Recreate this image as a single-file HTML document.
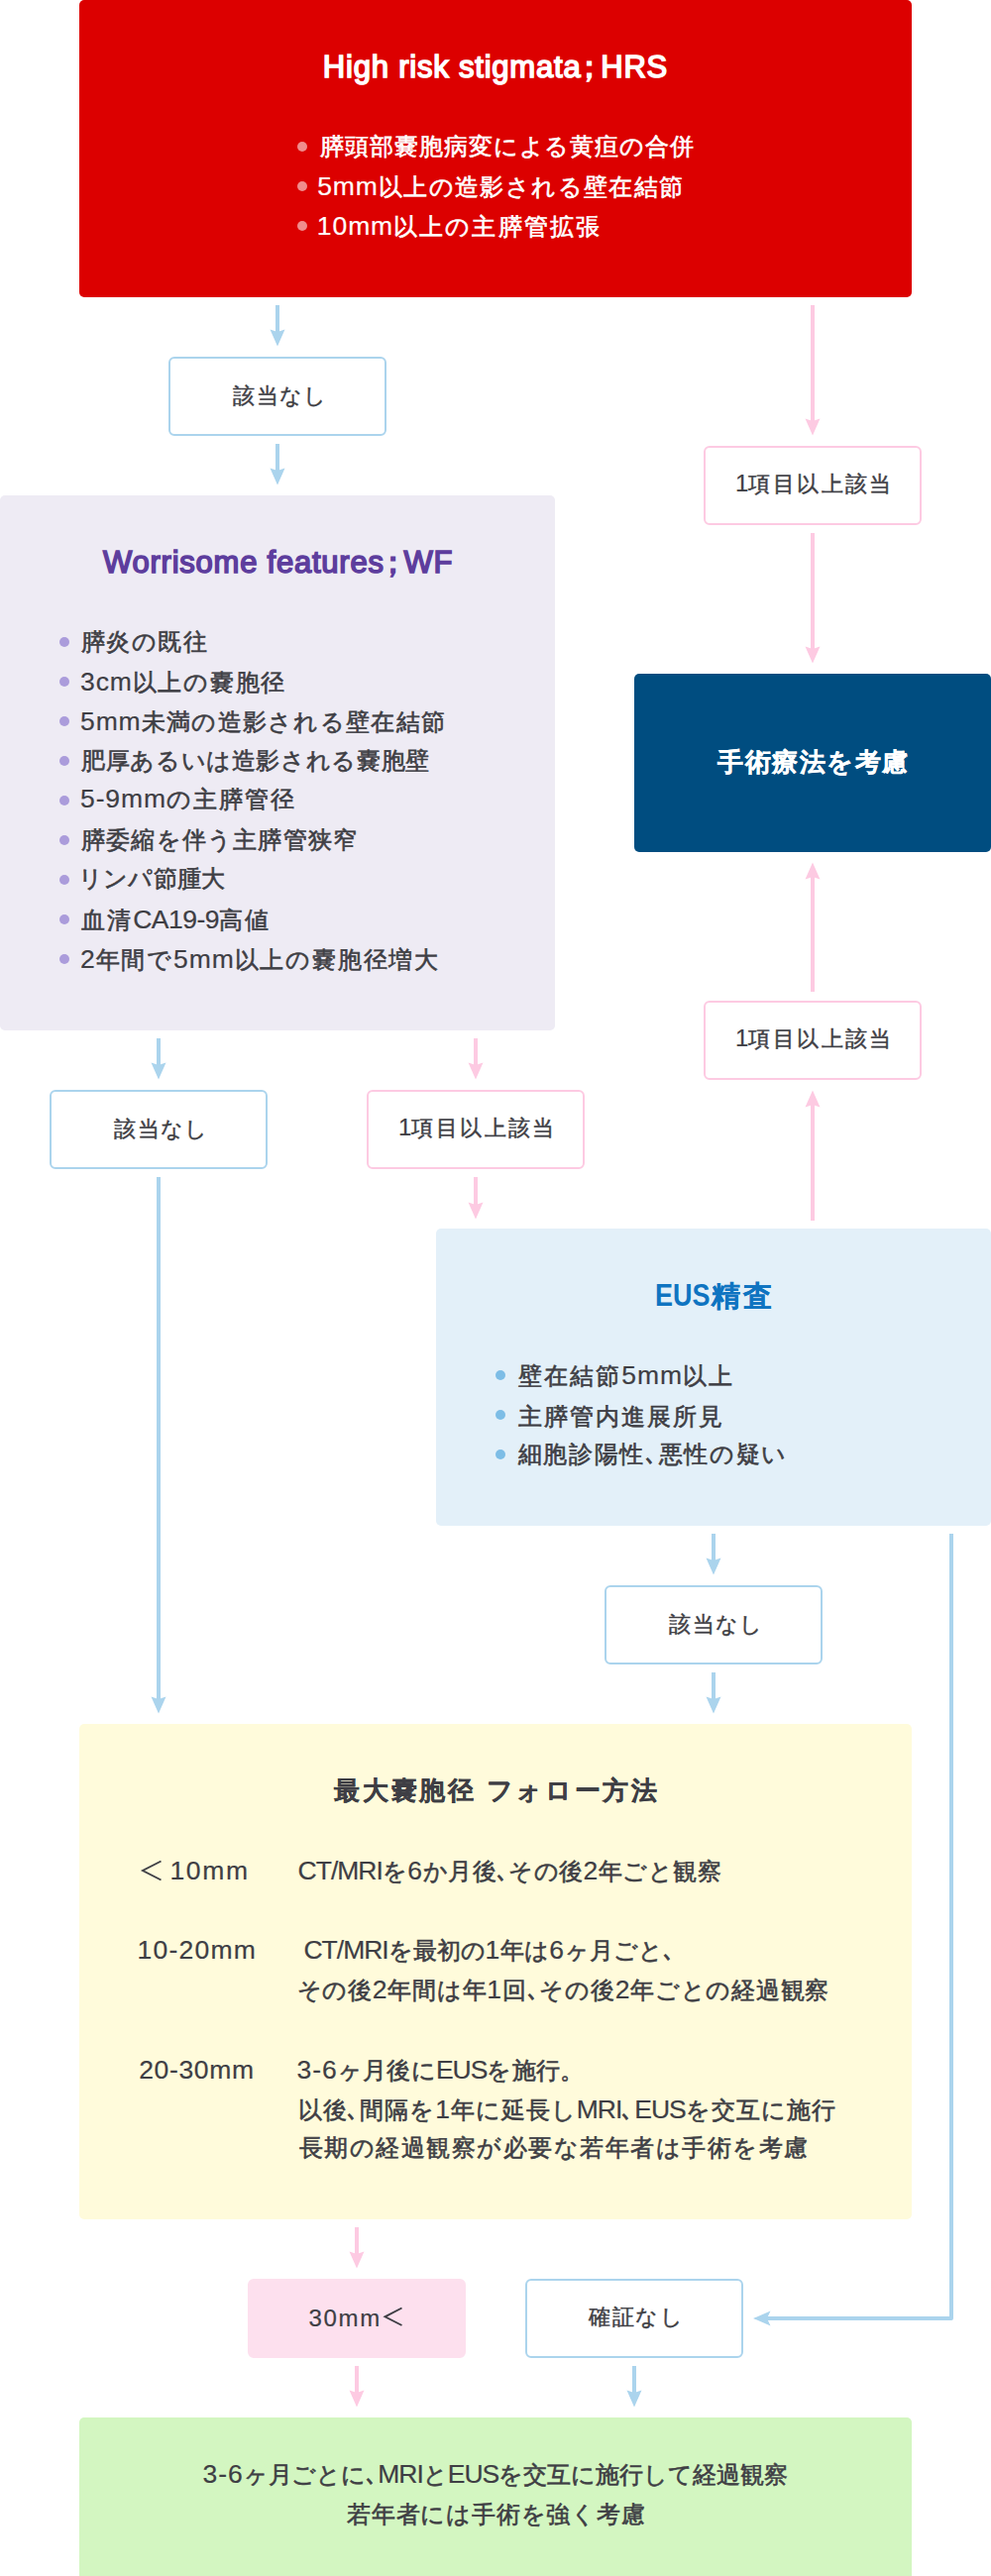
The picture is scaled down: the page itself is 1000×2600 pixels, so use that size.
<!DOCTYPE html><html lang="ja"><head><meta charset="utf-8"><style>
*{margin:0;padding:0;box-sizing:border-box}
html,body{width:1000px;height:2600px;background:#fff;overflow:hidden}
body{position:relative;font-family:"Liberation Sans",sans-serif;color:#3e3e44}
.b{position:absolute}
.t{position:absolute;white-space:nowrap;line-height:40px;top:0;left:0}
.bx{position:absolute;border:2px solid #abd4ed;border-radius:6px;background:#fff}
.bp{position:absolute;border:2px solid #fdcae2;border-radius:6px;background:#fff}
.dot{position:absolute;width:10px;height:10px;border-radius:50%}
.lt{line-height:1;-webkit-text-stroke-width:0.2px}
.tb .lt{-webkit-text-stroke-width:0}
</style></head><body>
<div class="b" style="left:80px;top:0px;width:840px;height:300px;background:#dc0000;border-radius:5px;"></div>
<div class="dot" style="left:300px;top:143px;background:#f08c8c"></div>
<div class="dot" style="left:300px;top:183px;background:#f08c8c"></div>
<div class="dot" style="left:300px;top:223px;background:#f08c8c"></div>
<div class="bx" style="left:170px;top:360px;width:220px;height:80px;"></div>
<div class="b" style="left:0px;top:500px;width:560px;height:540px;background:#eeebf4;border-radius:5px;"></div>
<div class="dot" style="left:60px;top:643px;background:#ab9cdb"></div>
<div class="dot" style="left:60px;top:683px;background:#ab9cdb"></div>
<div class="dot" style="left:60px;top:723px;background:#ab9cdb"></div>
<div class="dot" style="left:60px;top:763px;background:#ab9cdb"></div>
<div class="dot" style="left:60px;top:803px;background:#ab9cdb"></div>
<div class="dot" style="left:60px;top:843px;background:#ab9cdb"></div>
<div class="dot" style="left:60px;top:883px;background:#ab9cdb"></div>
<div class="dot" style="left:60px;top:923px;background:#ab9cdb"></div>
<div class="dot" style="left:60px;top:963px;background:#ab9cdb"></div>
<div class="bp" style="left:710px;top:450px;width:220px;height:80px;"></div>
<div class="b" style="left:640px;top:680px;width:360px;height:180px;background:#004d80;border-radius:5px;"></div>
<div class="bp" style="left:710px;top:1010px;width:220px;height:80px;"></div>
<div class="bx" style="left:50px;top:1100px;width:220px;height:80px;"></div>
<div class="bp" style="left:370px;top:1100px;width:220px;height:80px;"></div>
<div class="b" style="left:440px;top:1240px;width:560px;height:300px;background:#e3f0f9;border-radius:5px;"></div>
<div class="dot" style="left:500px;top:1383px;background:#7dbde6"></div>
<div class="dot" style="left:500px;top:1423px;background:#7dbde6"></div>
<div class="dot" style="left:500px;top:1463px;background:#7dbde6"></div>
<div class="bx" style="left:610px;top:1600px;width:220px;height:80px;"></div>
<div class="b" style="left:80px;top:1740px;width:840px;height:500px;background:#fffbdb;border-radius:5px;"></div>
<div class="bp" style="left:250px;top:2300px;width:220px;height:80px;background:#fde0ee;border-color:#fde0ee"></div>
<div class="bx" style="left:530px;top:2300px;width:220px;height:80px;"></div>
<div class="b" style="left:80px;top:2440px;width:840px;height:165px;background:#d3f6c1;border-radius:5px;"></div>
<div class="t" id="t0" style="left:325.86px;top:48.37px;font-size:31px;letter-spacing:0.790px;color:#fff;-webkit-text-stroke:1.6px #fff;"><span class="ref">H</span>igh risk stigmata<span style="margin:0 -5px 0 -7px">；</span>HRS</div>
<div class="t" id="t1" style="left:322.56px;top:128.04px;font-size:24px;letter-spacing:0.994px;color:#fff;-webkit-text-stroke:0.6px #fff;"><span class="ref">膵</span>頭部嚢胞病変による黄疸の合併</div>
<div class="t" id="t2" style="left:320.18px;top:168.74px;font-size:24px;letter-spacing:1.413px;color:#fff;-webkit-text-stroke:0.6px #fff;"><span class="lt" style="font-size:26.5px;letter-spacing:0.9px">5mm</span><span class="ref">以</span>上の造影される壁在結節</div>
<div class="t" id="t3" style="left:319.86px;top:208.74px;font-size:24px;letter-spacing:2.126px;color:#fff;-webkit-text-stroke:0.6px #fff;"><span class="lt" style="font-size:26.5px;letter-spacing:0.9px">10mm</span><span class="ref">以</span>上の主膵管拡張</div>
<div class="t" id="t4" style="left:235.42px;top:379.58px;font-size:22px;letter-spacing:1.320px;color:#3e3e44;-webkit-text-stroke:0.45px #3e3e44;"><span class="ref">該</span>当なし</div>
<div class="t" id="t5" style="left:741.92px;top:468.60px;font-size:22px;letter-spacing:2.424px;color:#3e3e44;-webkit-text-stroke:0.45px #3e3e44;"><span class="lt" style="font-size:24px;letter-spacing:0px">1</span><span class="ref">項</span>目以上該当</div>
<div class="t" id="t6" style="left:103.98px;top:548.22px;font-size:31px;letter-spacing:0.768px;color:#5d3d9d;-webkit-text-stroke:1.6px #5d3d9d;"><span class="ref">W</span>orrisome features<span style="margin:0 -5px 0 -7px">；</span>WF</div>
<div class="t" id="t7" style="left:82.00px;top:628.04px;font-size:24px;letter-spacing:1.400px;color:#3e3e44;-webkit-text-stroke:0.6px #3e3e44;"><span class="ref">膵</span>炎の既往</div>
<div class="t" id="t8" style="left:81.00px;top:668.74px;font-size:24px;letter-spacing:1.692px;color:#3e3e44;-webkit-text-stroke:0.6px #3e3e44;"><span class="lt" style="font-size:26.5px;letter-spacing:0.9px">3cm</span><span class="ref">以</span>上の嚢胞径</div>
<div class="t" id="t9" style="left:81.00px;top:708.74px;font-size:24px;letter-spacing:1.315px;color:#3e3e44;-webkit-text-stroke:0.6px #3e3e44;"><span class="lt" style="font-size:26.5px;letter-spacing:0.9px">5mm</span><span class="ref">未</span>満の造影される壁在結節</div>
<div class="t" id="t10" style="left:82.00px;top:747.74px;font-size:24px;letter-spacing:0.635px;color:#3e3e44;-webkit-text-stroke:0.6px #3e3e44;"><span class="ref">肥</span>厚あるいは造影される嚢胞壁</div>
<div class="t" id="t11" style="left:81.00px;top:787.04px;font-size:24px;letter-spacing:1.890px;color:#3e3e44;-webkit-text-stroke:0.6px #3e3e44;"><span class="lt" style="font-size:26.5px;letter-spacing:0.9px">5-9mm</span><span class="ref">の</span>主膵管径</div>
<div class="t" id="t12" style="left:82.00px;top:828.04px;font-size:24px;letter-spacing:1.200px;color:#3e3e44;-webkit-text-stroke:0.6px #3e3e44;"><span class="ref">膵</span>委縮を伴う主膵管狭窄</div>
<div class="t" id="t13" style="left:78.56px;top:867.39px;font-size:24px;letter-spacing:0.316px;color:#3e3e44;-webkit-text-stroke:0.6px #3e3e44;"><span class="ref">リ</span>ンパ節腫大</div>
<div class="t" id="t14" style="left:82.00px;top:908.99px;font-size:24px;letter-spacing:2.100px;color:#3e3e44;-webkit-text-stroke:0.6px #3e3e44;"><span class="ref">血</span>清<span class="lt" style="font-size:26.5px;letter-spacing:-0.5px">CA19-9</span>高値</div>
<div class="t" id="t15" style="left:81.00px;top:948.74px;font-size:24px;letter-spacing:1.784px;color:#3e3e44;-webkit-text-stroke:0.6px #3e3e44;"><span class="lt" style="font-size:26.5px;letter-spacing:0.9px">2</span><span class="ref">年</span>間で<span class="lt" style="font-size:26.5px;letter-spacing:0.9px">5mm</span>以上の嚢胞径増大</div>
<div class="t tb" id="t16" style="left:724.18px;top:748.60px;font-size:26px;letter-spacing:1.500px;color:#fff;font-weight:700;-webkit-text-stroke:0.3px #fff;"><span class="ref">手</span>術療法を考慮</div>
<div class="t" id="t17" style="left:741.92px;top:1028.60px;font-size:22px;letter-spacing:2.424px;color:#3e3e44;-webkit-text-stroke:0.45px #3e3e44;"><span class="lt" style="font-size:24px;letter-spacing:0px">1</span><span class="ref">項</span>目以上該当</div>
<div class="t" id="t18" style="left:115.42px;top:1119.58px;font-size:22px;letter-spacing:1.320px;color:#3e3e44;-webkit-text-stroke:0.45px #3e3e44;"><span class="ref">該</span>当なし</div>
<div class="t" id="t19" style="left:401.92px;top:1118.60px;font-size:22px;letter-spacing:2.424px;color:#3e3e44;-webkit-text-stroke:0.45px #3e3e44;"><span class="lt" style="font-size:24px;letter-spacing:0px">1</span><span class="ref">項</span>目以上該当</div>
<div class="t tb" id="t20" style="left:661.42px;top:1288.18px;font-size:29px;letter-spacing:2.680px;color:#0f74c1;font-weight:700;-webkit-text-stroke:0.3px #0f74c1;"><span class="lt" style="font-size:31px;letter-spacing:0;display:inline-block;transform:scaleX(0.87);transform-origin:0 0;margin-right:-7px"><span class="ref">E</span>US</span>精査</div>
<div class="t" id="t21" style="left:522.60px;top:1368.74px;font-size:24px;letter-spacing:2.168px;color:#3e3e44;-webkit-text-stroke:0.6px #3e3e44;"><span class="ref">壁</span>在結節<span class="lt" style="font-size:26.5px;letter-spacing:0.9px">5mm</span>以上</div>
<div class="t" id="t22" style="left:522.60px;top:1409.74px;font-size:24px;letter-spacing:2.063px;color:#3e3e44;-webkit-text-stroke:0.6px #3e3e44;"><span class="ref">主</span>膵管内進展所見</div>
<div class="t" id="t23" style="left:522.60px;top:1448.04px;font-size:24px;letter-spacing:1.684px;color:#3e3e44;-webkit-text-stroke:0.6px #3e3e44;"><span class="ref">細</span>胞診陽性､悪性の疑い</div>
<div class="t" id="t24" style="left:675.42px;top:1619.58px;font-size:22px;letter-spacing:1.320px;color:#3e3e44;-webkit-text-stroke:0.45px #3e3e44;"><span class="ref">該</span>当なし</div>
<div class="t tb" id="t25" style="left:337.18px;top:1787.42px;font-size:26px;letter-spacing:2.698px;color:#3e3e44;font-weight:700;-webkit-text-stroke:0.25px #3e3e44;"><span class="ref">最</span>大嚢胞径 フォロー方法</div>
<div class="t" id="t26" style="left:171.40px;top:1867.58px;font-size:26.5px;letter-spacing:1.680px;color:#3e3e44;-webkit-text-stroke:0.2px #3e3e44;"><span class="ref">1</span>0mm</div>
<div class="t" id="t27" style="left:300.60px;top:1868.58px;font-size:24px;letter-spacing:0.372px;color:#3e3e44;-webkit-text-stroke:0.6px #3e3e44;"><span class="lt" style="font-size:26.5px;letter-spacing:-1.0px"><span class="ref">C</span>T/MRI</span>を<span class="lt" style="font-size:26.5px;letter-spacing:0.9px">6</span>か月後､その後<span class="lt" style="font-size:26.5px;letter-spacing:0.9px">2</span>年ごと観察</div>
<div class="t" id="t28" style="left:138.58px;top:1948.18px;font-size:26.5px;letter-spacing:1.220px;color:#3e3e44;-webkit-text-stroke:0.2px #3e3e44;"><span class="ref">1</span>0-20mm</div>
<div class="t" id="t29" style="left:299.82px;top:1949.18px;font-size:24px;letter-spacing:-0.031px;color:#3e3e44;-webkit-text-stroke:0.6px #3e3e44;">&nbsp;<span class="lt" style="font-size:26.5px;letter-spacing:-1.0px"><span class="ref">C</span>T/MRI</span>を最初の<span class="lt" style="font-size:26.5px;letter-spacing:0.9px">1</span>年は<span class="lt" style="font-size:26.5px;letter-spacing:0.9px">6</span>ヶ月ごと､</div>
<div class="t" id="t30" style="left:299.60px;top:1989.18px;font-size:24px;letter-spacing:0.728px;color:#3e3e44;-webkit-text-stroke:0.6px #3e3e44;">その後<span class="lt" style="font-size:26.5px;letter-spacing:0.9px"><span class="ref">2</span></span>年間は年<span class="lt" style="font-size:26.5px;letter-spacing:0.9px">1</span>回､その後<span class="lt" style="font-size:26.5px;letter-spacing:0.9px">2</span>年ごとの経過観察</div>
<div class="t" id="t31" style="left:140.18px;top:2068.58px;font-size:26.5px;letter-spacing:0.650px;color:#3e3e44;-webkit-text-stroke:0.2px #3e3e44;"><span class="ref">2</span>0-30mm</div>
<div class="t" id="t32" style="left:299.58px;top:2069.58px;font-size:24px;letter-spacing:0.331px;color:#3e3e44;-webkit-text-stroke:0.6px #3e3e44;"><span class="lt" style="font-size:26.5px;letter-spacing:0.9px"><span class="ref">3</span>-6</span>ヶ月後に<span class="lt" style="font-size:26.5px;letter-spacing:-1.0px">EUS</span>を施行。</div>
<div class="t" id="t33" style="left:300.60px;top:2109.58px;font-size:24px;letter-spacing:0.952px;color:#3e3e44;-webkit-text-stroke:0.6px #3e3e44;">以後､間隔を<span class="lt" style="font-size:26.5px;letter-spacing:0.9px"><span class="ref">1</span></span>年に延長し<span class="lt" style="font-size:26.5px;letter-spacing:-1.0px">MRI</span>､<span class="lt" style="font-size:26.5px;letter-spacing:-1.0px">EUS</span>を交互に施行</div>
<div class="t" id="t34" style="left:301.60px;top:2148.18px;font-size:24px;letter-spacing:1.518px;color:#3e3e44;-webkit-text-stroke:0.6px #3e3e44;"><span class="ref">長</span>期の経過観察が必要な若年者は手術を考慮</div>
<div class="t" id="t35" style="left:311.42px;top:2319.65px;font-size:24px;letter-spacing:1.713px;color:#3e3e44;-webkit-text-stroke:0.2px #3e3e44;"><span class="ref">3</span>0mm</div>
<div class="t" id="t36" style="left:594.04px;top:2319.32px;font-size:22px;letter-spacing:1.720px;color:#3e3e44;-webkit-text-stroke:0.45px #3e3e44;"><span class="ref">確</span>証なし</div>
<div class="t" id="t37" style="left:204.58px;top:2478.00px;font-size:24px;letter-spacing:-0.056px;color:#3e3e44;-webkit-text-stroke:0.6px #3e3e44;"><span class="lt" style="font-size:26.5px;letter-spacing:0.9px"><span class="ref">3</span>-6</span>ヶ月ごとに､<span class="lt" style="font-size:26.5px;letter-spacing:-1.0px">MRI</span>と<span class="lt" style="font-size:26.5px;letter-spacing:-1.0px">EUS</span>を交互に施行して経過観察</div>
<div class="t" id="t38" style="left:350.22px;top:2517.93px;font-size:24px;letter-spacing:0.756px;color:#3e3e44;-webkit-text-stroke:0.6px #3e3e44;"><span class="ref">若</span>年者には手術を強く考慮</div>
<svg class="b" style="left:0;top:0" width="1000" height="2600" viewBox="0 0 1000 2600">
<rect x="278" y="308" width="4" height="33.5" fill="#abd4ed"/><polygon points="272.5,332.5 280,335.0 287.5,332.5 280,349.5" fill="#abd4ed"/>
<rect x="278" y="448" width="4" height="33.5" fill="#abd4ed"/><polygon points="272.5,472.5 280,475.0 287.5,472.5 280,489.5" fill="#abd4ed"/>
<rect x="818" y="308" width="4" height="123.5" fill="#fdcae2"/><polygon points="812.5,422.5 820,425.0 827.5,422.5 820,439.5" fill="#fdcae2"/>
<rect x="818" y="538" width="4" height="123.5" fill="#fdcae2"/><polygon points="812.5,652.5 820,655.0 827.5,652.5 820,669.5" fill="#fdcae2"/>
<rect x="818" y="878.5" width="4" height="122.5" fill="#fdcae2"/><polygon points="812.5,887.5 820,885.0 827.5,887.5 820,870.5" fill="#fdcae2"/>
<rect x="818" y="1108.5" width="4" height="123.5" fill="#fdcae2"/><polygon points="812.5,1117.5 820,1115.0 827.5,1117.5 820,1100.5" fill="#fdcae2"/>
<rect x="158" y="1048" width="4" height="33.5" fill="#abd4ed"/><polygon points="152.5,1072.5 160,1075.0 167.5,1072.5 160,1089.5" fill="#abd4ed"/>
<rect x="478" y="1048" width="4" height="33.5" fill="#fdcae2"/><polygon points="472.5,1072.5 480,1075.0 487.5,1072.5 480,1089.5" fill="#fdcae2"/>
<rect x="158" y="1188" width="4" height="533.5" fill="#abd4ed"/><polygon points="152.5,1712.5 160,1715.0 167.5,1712.5 160,1729.5" fill="#abd4ed"/>
<rect x="478" y="1188" width="4" height="34.5" fill="#fdcae2"/><polygon points="472.5,1213.5 480,1216.0 487.5,1213.5 480,1230.5" fill="#fdcae2"/>
<rect x="718" y="1548" width="4" height="33.5" fill="#abd4ed"/><polygon points="712.5,1572.5 720,1575.0 727.5,1572.5 720,1589.5" fill="#abd4ed"/>
<rect x="718" y="1688" width="4" height="33.5" fill="#abd4ed"/><polygon points="712.5,1712.5 720,1715.0 727.5,1712.5 720,1729.5" fill="#abd4ed"/>
<path d="M960,1548 L960,2340 L770,2340" fill="none" stroke="#abd4ed" stroke-width="4" stroke-linejoin="round"/><polygon points="777.5,2332.5 774,2340 777.5,2347.5 760,2340" fill="#abd4ed"/>
<polyline points="162.5,1878.5 144,1888 162.5,1897.5" fill="none" stroke="#3e3e44" stroke-width="1.9"/><polyline points="405.5,2329.5 388.5,2338.3 405.5,2347" fill="none" stroke="#3e3e44" stroke-width="1.9"/><rect x="358" y="2248" width="4" height="33.5" fill="#fdcae2"/><polygon points="352.5,2272.5 360,2275.0 367.5,2272.5 360,2289.5" fill="#fdcae2"/>
<rect x="358" y="2388" width="4" height="33.5" fill="#fdcae2"/><polygon points="352.5,2412.5 360,2415.0 367.5,2412.5 360,2429.5" fill="#fdcae2"/>
<rect x="638" y="2388" width="4" height="33.5" fill="#abd4ed"/><polygon points="632.5,2412.5 640,2415.0 647.5,2412.5 640,2429.5" fill="#abd4ed"/>
</svg>
</body></html>
